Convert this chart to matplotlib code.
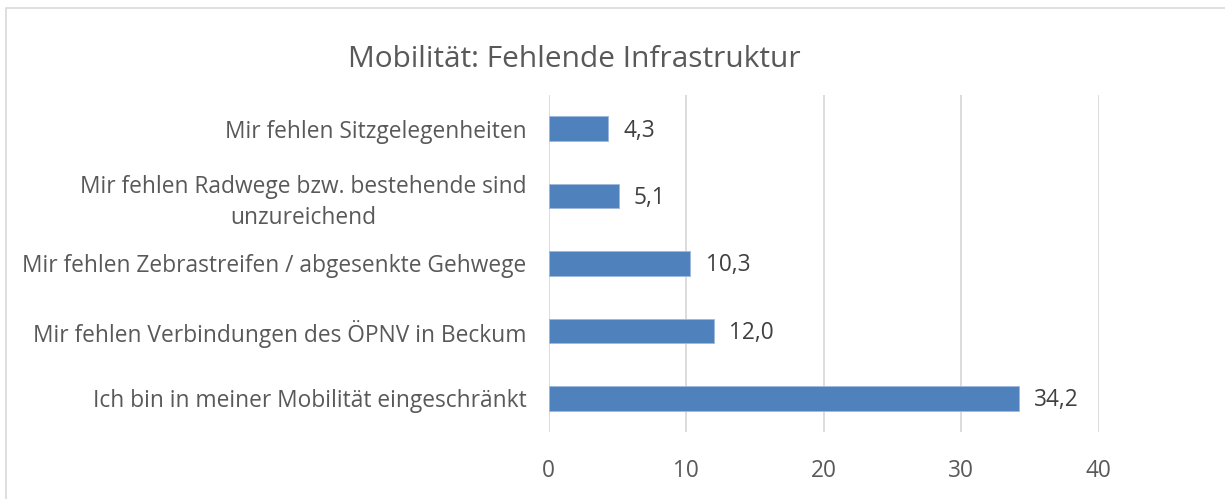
import matplotlib
matplotlib.use("Agg")
import matplotlib.pyplot as plt
from matplotlib.patches import Rectangle

plt.rcParams['font.family'] = ['Open Sans', 'DejaVu Sans']

# Daten (von unten nach oben)
categories = [
    "Ich bin in meiner Mobilität eingeschränkt",
    "Mir fehlen Verbindungen des ÖPNV in Beckum",
    "Mir fehlen Zebrastreifen / abgesenkte Gehwege",
    "Mir fehlen Radwege bzw. bestehende sind\nunzureichend",
    "Mir fehlen Sitzgelegenheiten",
]
values = [34.2, 12.0, 10.3, 5.1, 4.3]
xticks = [0, 10, 20, 30, 40]

textcol = "#595959"
barcol = "#4F81BD"

fig = plt.figure(figsize=(12.25, 4.99), dpi=100)
ax = fig.add_axes([0.448, 0.134, 0.449, 0.676])

ypos = list(range(len(categories)))
bars = ax.barh(ypos, values, height=0.36, color=barcol, edgecolor="#9DB9DE", linewidth=0.6, zorder=3)
for rect, v in zip(bars, values):
    ax.text(rect.get_width() + 1.1, rect.get_y() + rect.get_height() / 2 - 0.03,
            "{:.1f}".format(v).replace(".", ","), va="center", ha="left",
            fontsize=16.3, color="#404040")

ax.set_xlim(0, 40)
ax.set_ylim(-0.5, len(categories) - 0.5)
ax.set_xticks(xticks)
ax.set_yticks(ypos)
ax.set_yticklabels(categories, fontsize=16.4, color=textcol, ha="right",
                   multialignment="center", linespacing=1.4)
ax.tick_params(axis="x", length=0, labelsize=16.3, labelcolor=textcol, pad=19)
ax.tick_params(axis="y", length=0, pad=16)
ax.grid(axis="x", color="#D9D9D9", linewidth=1.3, zorder=0)
for s in ax.spines.values():
    s.set_visible(False)

fig.text(0.469, 0.88, "Mobilität: Fehlende Infrastruktur", ha="center", va="center",
         fontsize=21.5, color=textcol)

# Rahmen (rechts und unten ausserhalb des Bildes)
fig.patches.append(Rectangle((6 / 1225, -10 / 499), 1230 / 1225, 501 / 499, transform=fig.transFigure,
                             fill=False, edgecolor="#D9D9D9", linewidth=1.2))

plt.savefig("out.png", dpi=100)
